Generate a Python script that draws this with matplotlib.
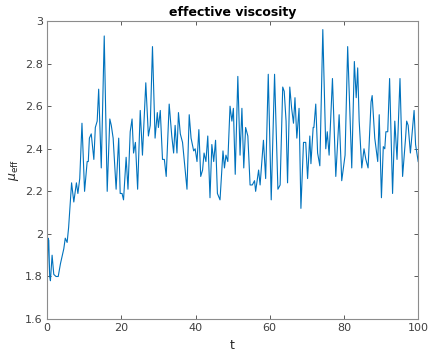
import numpy as np
import matplotlib
matplotlib.use("Agg")
import matplotlib.pyplot as plt

# time samples and effective viscosity
t = [0.0, 0.27, 0.45, 0.7, 0.9, 1.35, 1.8, 2.4, 3.0, 3.6, 4.5, 4.9, 5.4, 5.8, 6.3,
     6.6, 7.2, 7.9, 8.3, 8.8, 9.4, 10.1, 10.8, 11.1, 11.4, 11.9, 12.6, 13.0, 13.5,
     13.9, 14.6, 15.4, 16.2, 16.9, 17.3, 17.8, 18.6, 19.3, 19.7, 20.2, 20.6, 21.3,
     21.8, 22.4, 22.9, 23.3, 23.8, 24.4, 25.1, 25.7, 26.6, 27.3, 27.8, 28.4, 29.1,
     29.7, 30.0, 30.5, 31.1, 31.6, 32.1, 32.9, 33.6, 34.1, 34.5, 35.0, 35.4, 35.9,
     36.5, 37.0, 37.7, 38.3, 38.8, 39.5, 39.9, 40.4, 40.9, 41.4, 41.9, 42.3, 42.8,
     43.3, 43.9, 44.4, 44.9, 45.4, 45.9, 46.6, 47.4, 47.8, 48.2, 48.7, 49.3, 49.8,
     50.2, 50.7, 51.4, 52.0, 52.5, 53.0, 53.5, 54.1, 54.7, 55.3, 55.9, 56.2, 57.0,
     57.4, 58.3, 58.9, 59.6, 60.4, 61.3, 62.2, 62.8, 63.5, 63.9, 64.4, 64.8, 65.4,
     65.9, 66.4, 66.8, 67.3, 67.9, 68.4, 69.1, 69.7, 70.2, 70.8, 71.1, 71.7, 71.9,
     72.4, 72.9, 73.5, 74.3, 75.1, 75.5, 76.0, 76.9, 77.8, 78.7, 79.4, 80.3, 81.0,
     82.1, 82.8, 83.3, 83.7, 84.1, 84.8, 85.4, 85.9, 86.2, 86.5, 87.3, 87.6, 88.3,
     89.1, 89.5, 90.1, 90.6, 91.0, 91.3, 91.8, 92.3, 93.1, 93.7, 94.3, 95.1, 95.8,
     96.6, 96.9, 97.3, 97.9, 98.9, 99.3, 100.0]
mu = [1.72, 1.98, 1.97, 1.80, 1.78, 1.90, 1.81, 1.80, 1.80, 1.86, 1.93, 1.98, 1.96,
      2.03, 2.16, 2.24, 2.15, 2.24, 2.19, 2.26, 2.52, 2.20, 2.34, 2.34, 2.45, 2.47,
      2.35, 2.50, 2.53, 2.68, 2.31, 2.93, 2.20, 2.54, 2.51, 2.45, 2.21, 2.45, 2.19,
      2.19, 2.16, 2.36, 2.21, 2.48, 2.54, 2.38, 2.43, 2.21, 2.58, 2.37, 2.71, 2.46,
      2.51, 2.88, 2.45, 2.57, 2.50, 2.58, 2.35, 2.35, 2.27, 2.61, 2.46, 2.38, 2.51,
      2.38, 2.57, 2.47, 2.43, 2.34, 2.21, 2.56, 2.45, 2.39, 2.40, 2.34, 2.49, 2.27,
      2.30, 2.38, 2.34, 2.46, 2.17, 2.42, 2.34, 2.44, 2.19, 2.16, 2.39, 2.31, 2.37,
      2.34, 2.60, 2.53, 2.59, 2.28, 2.74, 2.37, 2.59, 2.31, 2.50, 2.46, 2.23, 2.23,
      2.25, 2.20, 2.30, 2.23, 2.44, 2.26, 2.75, 2.16, 2.75, 2.21, 2.23, 2.69, 2.67,
      2.53, 2.24, 2.69, 2.59, 2.52, 2.64, 2.45, 2.59, 2.12, 2.43, 2.43, 2.26, 2.46,
      2.33, 2.50, 2.50, 2.61, 2.38, 2.32, 2.96, 2.40, 2.48, 2.37, 2.73, 2.27, 2.56,
      2.25, 2.37, 2.88, 2.31, 2.81, 2.64, 2.78, 2.53, 2.31, 2.40, 2.35, 2.33, 2.31,
      2.62, 2.65, 2.45, 2.34, 2.56, 2.17, 2.41, 2.40, 2.48, 2.48, 2.73, 2.19, 2.53,
      2.35, 2.73, 2.27, 2.45, 2.53, 2.51, 2.38, 2.58, 2.42, 2.34]

xticks = [0, 20, 40, 60, 80, 100]
yticks = [1.6, 1.8, 2.0, 2.2, 2.4, 2.6, 2.8, 3.0]
ytick_labels = ["1.6", "1.8", "2", "2.2", "2.4", "2.6", "2.8", "3"]

plt.rcParams["font.family"] = ["DejaVu Sans"]

fig = plt.figure(figsize=(4.32, 3.51), dpi=100)
ax = fig.add_axes([0.109, 0.091, 0.859, 0.849])

ax.plot(t, mu, color="#0072BD", lw=0.8)

ax.set_xlim(0, 100)
ax.set_ylim(1.6, 3.0)
ax.set_xticks(xticks)
ax.set_yticks(yticks)
ax.set_yticklabels(ytick_labels)

box = "#262626"
for s in ax.spines.values():
    s.set_color("#8c8c8c")
    s.set_linewidth(0.8)
ax.tick_params(direction="in", length=3, width=0.6, colors="#404040",
               labelsize=8, top=True, right=True, pad=3)

ax.set_xlabel("t", fontsize=9, color=box, labelpad=4)
ax.set_ylabel(r"$\mu_{\mathrm{eff}}$", fontsize=9, color=box, labelpad=3)
ax.set_title("effective viscosity", fontsize=9, fontweight="bold", color="black", pad=4)

fig.savefig("out.png", dpi=100)
